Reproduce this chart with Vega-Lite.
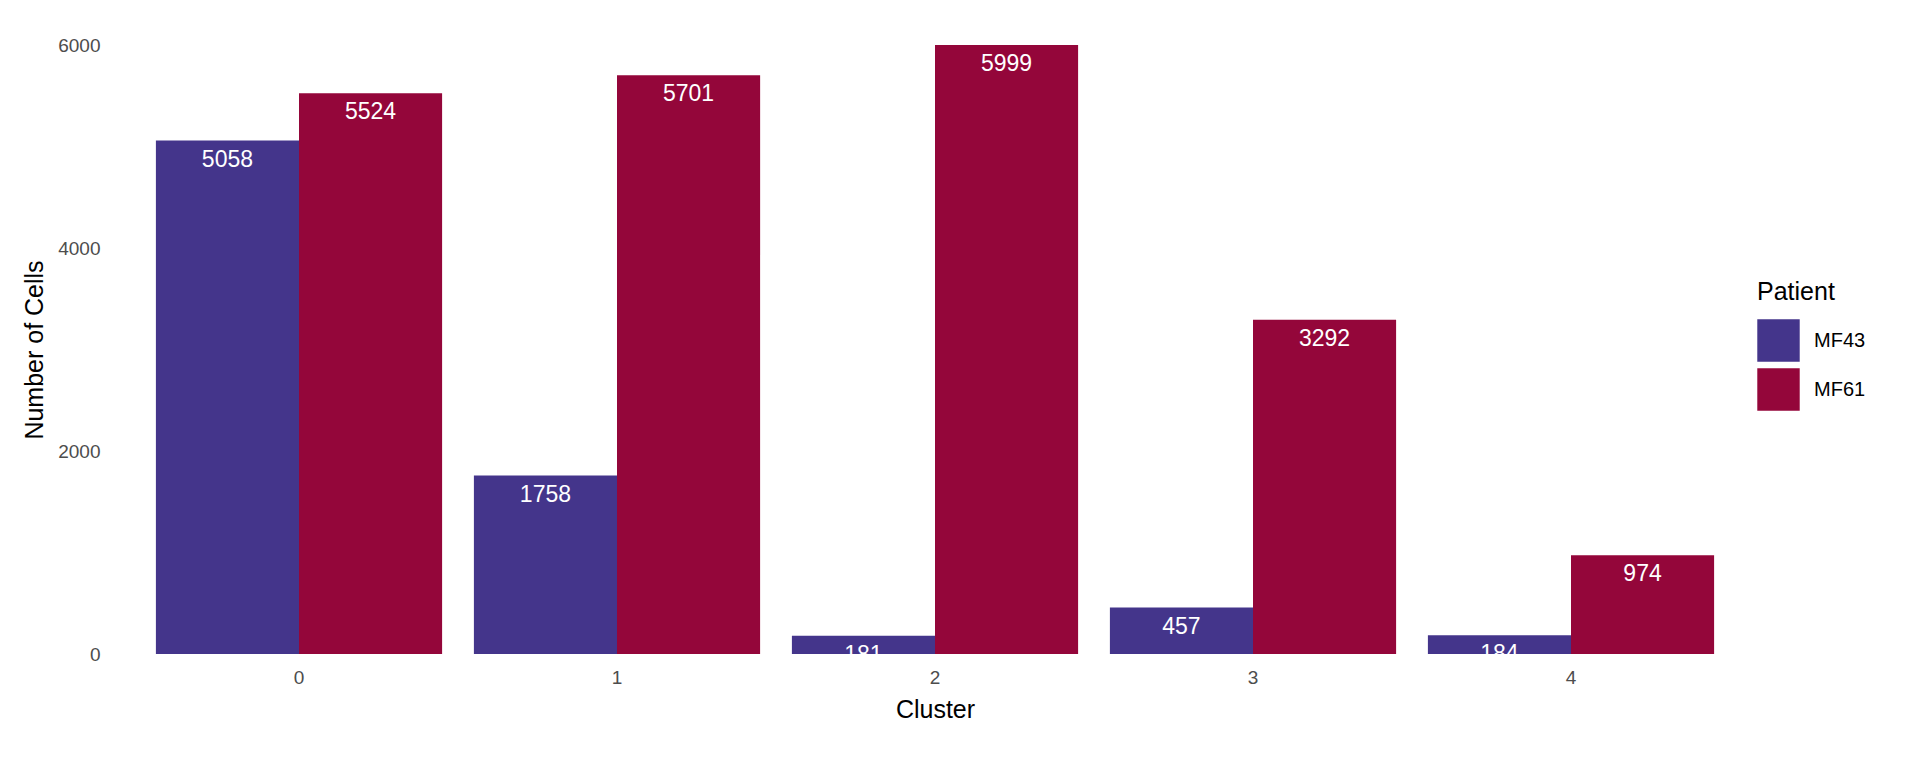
{
"$schema":"https://vega.github.io/schema/vega-lite/v6.json",
"width":1590,"height":609,
"autosize":{"type":"none"},
"padding":{"left":140,"top":45,"right":190,"bottom":114},
"config":{"view":{"stroke":null},"font":"Liberation Sans"},
"data":{"values":[
{"Cluster":"0","Patient":"MF43","n":5058},{"Cluster":"0","Patient":"MF61","n":5524},
{"Cluster":"1","Patient":"MF43","n":1758},{"Cluster":"1","Patient":"MF61","n":5701},
{"Cluster":"2","Patient":"MF43","n":181},{"Cluster":"2","Patient":"MF61","n":5999},
{"Cluster":"3","Patient":"MF43","n":457},{"Cluster":"3","Patient":"MF61","n":3292},
{"Cluster":"4","Patient":"MF43","n":184},{"Cluster":"4","Patient":"MF61","n":974}
]},
"encoding":{
"x":{"field":"Cluster","type":"nominal","scale":{"paddingInner":0.1,"paddingOuter":0.05},"axis":{"labelAngle":0,"domain":false,"ticks":false,"labelFontSize":19,"labelColor":"#4d4d4d","titleFontSize":25,"titleFontWeight":"normal","labelPadding":14,"titlePadding":10}},
"y":{"field":"n","type":"quantitative","title":"Number of Cells","scale":{"domain":[0,6000]},"axis":{"values":[0,2000,4000,6000],"format":"d","grid":false,"domain":false,"ticks":false,"labelFontSize":19,"labelColor":"#4d4d4d","titleFontSize":25,"titleFontWeight":"normal","labelPadding":40,"titlePadding":10}},
"xOffset":{"field":"Patient"}
},
"layer":[
{"mark":{"type":"bar"},"encoding":{"color":{"field":"Patient","type":"nominal","scale":{"range":["#44358b","#94063a"]},"legend":{"orient":"none","legendX":1617,"legendY":235,"titleFontSize":25,"titleFontWeight":"normal","labelFontSize":20,"symbolType":"square","symbolSize":1800,"symbolStrokeWidth":0,"symbolOpacity":1,"rowPadding":6,"labelOffset":14,"titlePadding":14}}}},
{"mark":{"type":"text","color":"white","fontSize":23,"baseline":"top","dy":8},"encoding":{"text":{"field":"n","type":"quantitative"}}}
]
}
